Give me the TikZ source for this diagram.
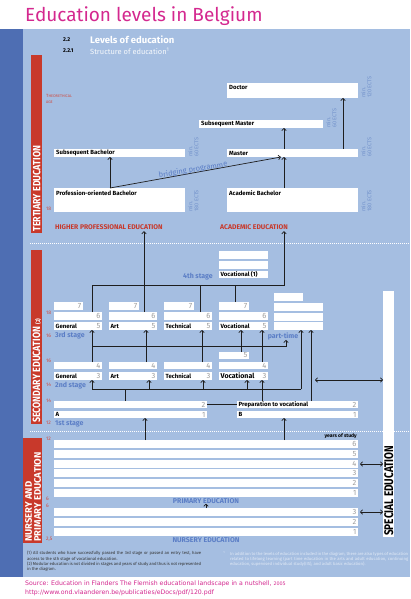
\documentclass[tikz,border=0pt]{standalone}
\usepackage{fontspec}
\usepackage{graphicx}
\setmainfont{Fira Sans}
\newfontfamily\srcfont{DejaVu Sans}
\usetikzlibrary{arrows.meta,calc}
\definecolor{bgblue}{HTML}{A5BEE1}
\definecolor{stripblue}{HTML}{4E6EB3}
\definecolor{redstrip}{HTML}{C8392B}
\definecolor{titlemag}{HTML}{D4288F}
\definecolor{stagetxt}{HTML}{5B7EC6}
\definecolor{ectstxt}{HTML}{7292CB}
\definecolor{numgrey}{HTML}{9C9C9C}
\definecolor{agered}{HTML}{D0483C}
\definecolor{linecol}{HTML}{1E1E1E}
\definecolor{notelight}{HTML}{E2EAF6}
\newcommand\fs[1]{\fontsize{#1}{#1}\selectfont}
\newcommand\wb[5]{\node[wbox,minimum width=#4pt,minimum height=#5pt] (#1) at (#2,#3) {};}
\newcommand\nb[6]{\wb{#1}{#2}{#3}{#4}{#5}\node[numtxt] (#1-n) at (#1.east) {#6};}
\newcommand\lb[7]{\nb{#1}{#2}{#3}{#4}{#5}{#7}\node[boxtxt] (#1-t) at (#1.west) {#6};}
\tikzset{
  wbox/.style={fill=white,draw=none,inner sep=0pt,outer sep=0pt,anchor=north west},
  numtxt/.style={anchor=east,inner sep=1.5pt,text=numgrey,font=\fs{7.5}},
  boxtxt/.style={anchor=west,inner sep=1.5pt,text=black,font=\fs{6}\bfseries},
  ttxt/.style={anchor=north west,inner sep=2pt,text=black,font=\fs{6}\bfseries},
  ects/.style={anchor=north west,rotate=90,align=left,text=ectstxt,font=\fontsize{5.5}{6}\selectfont,inner sep=0pt},
  agetxt/.style={anchor=west,text=agered,font=\fs{5},inner sep=0pt},
  stagetx/.style={anchor=west,text=stagetxt,font=\fs{7}\bfseries,inner sep=0pt},
  edtxt/.style={anchor=west,text=redstrip,font=\fs{6.8}\bfseries,inner sep=1.5pt},
  ln/.style={draw=linecol,line width=0.7pt},
  arr/.style={ln,-{Straight Barb[length=2.2pt,width=4.5pt]}},
  darr/.style={ln,{Straight Barb[length=2.2pt,width=4.5pt]}-{Straight Barb[length=2.2pt,width=4.5pt]}},
  striptxt/.style={rotate=90,anchor=west,text=white,inner sep=0pt},
}
\begin{document}
\begin{tikzpicture}[x=1pt,y=-1pt]
\useasboundingbox (0,0) rectangle (410,599);
\fill[white] (0,0) rectangle (410,599);
\fill[bgblue] (0,29) rectangle (410,577);
\fill[stripblue] (0,29) rectangle (23,577);
\node[anchor=west,text=titlemag,font=\fs{19},inner sep=0pt] (title) at (25,16) {Education levels in Belgium};
% header
\node[anchor=west,font=\fs{5.5}\bfseries,inner sep=0pt] (h1n) at (63,40) {2.2};
\node[anchor=west,font=\fs{9.5}\bfseries,text=white,inner sep=0pt] (h1) at (90,40) {Levels of education};
\node[anchor=west,font=\fs{5.5}\bfseries,inner sep=0pt] (h2n) at (63,51) {2.2.1};
\node[anchor=west,font=\fs{7.5},text=white!90!bgblue,inner sep=0pt] (h2) at (90,51) {Structure of education\textsuperscript{1}};
% red strips
\fill[redstrip] (31,55) rectangle (42,233);
\fill[redstrip] (31,250) rectangle (42,424);
\fill[redstrip] (23,438) rectangle (42,543);
\node[striptxt,font=\fs{10.5}\bfseries] (tert) at (36.8,232) {\scalebox{0.85}[1]{TERTIARY EDUCATION}};
\node[striptxt,font=\fs{10.5}\bfseries] (sec) at (36.8,423) {\scalebox{0.85}[1]{SECONDARY EDUCATION {\fs{6}(2)}}};
\node[striptxt,font=\fontsize{9.5}{9}\selectfont\bfseries,align=left] (nur) at (33,542) {NURSERY AND\\PRIMARY EDUCATION};
% separators
\draw[white,line width=0.4pt,dash pattern=on 1pt off 1pt] (30,243) -- (410,243);
\draw[white,line width=0.4pt,dash pattern=on 1pt off 1pt] (30,431) -- (410,431);
% theoretical age
\node[anchor=north west,align=left,text=agered,font=\fontsize{4.5}{6}\selectfont,inner sep=0pt] (tage) at (46,94) {T{\fs{3.8}HEORETHICAL}\\{\fs{3.8}AGE}};
% ages
\node[agetxt] (ag1) at (46,209) {18};
\node[agetxt] (ag2) at (46,313) {18};
\node[agetxt] (ag3) at (46,336) {16};
\node[agetxt] (ag4) at (46,361) {16};
\node[agetxt] (ag5) at (46,385) {14};
\node[agetxt] (ag6) at (46,401) {14};
\node[agetxt] (ag7) at (46,423) {12};
\node[agetxt] (ag8) at (46,439) {12};
\node[agetxt] (ag9) at (46,499) {6};
\node[agetxt] (ag10) at (46,506) {6};
\node[agetxt] (ag11) at (46,539) {2,5};
% tertiary boxes
\wb{doc}{227}{83}{131}{15}\node[ttxt] (doc-t) at (doc.north west) {Doctor};
\wb{smas}{199}{120}{124}{8}\node[ttxt,anchor=west] (smas-t) at (smas.west) {Subsequent Master};
\wb{sbach}{54}{149}{131}{8}\node[ttxt,anchor=west] (sbach-t) at (sbach.west) {Subsequent Bachelor};
\wb{mas}{227}{149}{131}{8}\node[ttxt,anchor=west] (mas-t) at (mas.west) {Master};
\wb{pbach}{54}{188}{131}{24}\node[ttxt] (pbach-t) at (pbach.north west) {Profession-oriented Bachelor};
\wb{abach}{227}{188}{131}{24}\node[ttxt] (abach-t) at (abach.north west) {Academic Bachelor};
% ECTS
\node[ects] (e1) at ([xshift=3pt]doc.south east) {min.\\120 ECTS};
\node[ects] (e2) at ([xshift=3pt]mas.south east) {min.\\60 ECTS};
\node[ects] (e3) at ([xshift=3pt]abach.south east) {min.\\180 ECTS};
\node[ects] (e4) at ([xshift=3pt]smas.south east) {min.\\60 ECTS};
\node[ects] (e5) at ([xshift=3pt]sbach.south east) {min.\\60 ECTS};
\node[ects] (e6) at ([xshift=3pt]pbach.south east) {min.\\180 ECTS};
% column coordinates
\coordinate (xB) at (110,0);
\coordinate (xBm) at (281,0);
\coordinate (xM) at (284,0);
\coordinate (xD) at (343,0);
\coordinate (xA) at (144,0);
\coordinate (xG) at (92,0);
\coordinate (xT) at (200,0);
\coordinate (xV) at (235,0);
\coordinate (xa1) at (146,0);
\coordinate (xt1) at (202,0);
\coordinate (xv1) at (241,0);
\coordinate (xa2) at (149,0);
\coordinate (xt2) at (203,0);
\coordinate (xv2) at (247,0);
\coordinate (xw) at (262,0);
\coordinate (xP) at (286,0);
\coordinate (xq) at (301,0);
\coordinate (xr) at (311,0);
\coordinate (xh) at (125,0);
\coordinate (xA2) at (145,0);
% tertiary arrows
\draw[arr] (pbach.north -| xB) -- (sbach.south -| xB);
\draw[arr] (pbach.north -| xB) -- (mas.south -| xBm);
\node[rotate=9.6,text=stagetxt,font=\fs{7.5},inner sep=0pt] (brid) at (193,170) {bridging programme};
\draw[arr] (abach.north -| xM) -- (mas.south -| xM);
\draw[arr] (mas.north -| xM) -- (smas.south -| xM);
\draw[arr] (mas.north -| xD) -- (doc.south -| xD);
\node[edtxt] (hpe) at (53.5,227) {HIGHER PROFESSIONAL EDUCATION};
\node[edtxt] (ae) at (218.5,227) {ACADEMIC EDUCATION};
% 4th stage
\wb{v4a}{219}{251}{49}{8}
\wb{v4b}{219}{261}{49}{8}
\wb{v4c}{219}{271}{49}{7}\node[boxtxt] (v4c-t) at (v4c.west) {Vocational (1)};
\node[stagetx,anchor=east] (st4) at (213,277) {4th stage};
% 3rd stage
\nb{g7}{54}{302}{29}{8}{7}
\nb{g6}{54}{312}{48}{8}{6}
\lb{g5}{54}{322}{48}{8}{General}{5}
\nb{a7}{109}{302}{30}{8}{7}
\nb{a6}{109}{312}{48}{8}{6}
\lb{a5}{109}{322}{48}{8}{Art}{5}
\nb{t7}{164}{302}{30}{8}{7}
\nb{t6}{164}{312}{48}{8}{6}
\lb{t5}{164}{322}{48}{8}{Technical}{5}
\nb{v7}{219}{302}{30}{8}{7}
\nb{v6}{219}{312}{49}{8}{6}
\lb{v5}{219}{322}{49}{8}{Vocational}{5}
\wb{p4}{274}{293}{29}{8}
\wb{p3}{274}{303}{49}{8}
\wb{p2}{274}{313}{49}{8}
\wb{p1}{274}{322}{49}{8}
\node[stagetx] (st3) at (55,336) {3rd stage};
\node[stagetx,anchor=center] (ptl) at (283,336) {part-time};
% 2nd stage
\nb{vx5}{219}{352}{30}{7}{5}
\nb{g4}{54}{362}{48}{7}{4}
\lb{g3}{54}{372}{48}{8}{General}{3}
\nb{a4}{109}{362}{48}{7}{4}
\lb{a3}{109}{372}{48}{8}{Art}{3}
\nb{t4}{164}{362}{48}{7}{4}
\lb{t3}{164}{372}{48}{8}{Technical}{3}
\nb{v4}{219}{362}{49}{7}{4}
\lb{v3}{219}{372}{49}{8}{\fs{7}Vocational}{3}
\node[stagetx] (st2) at (55,386) {2nd stage};
% 1st stage
\nb{s1b}{54}{401}{153}{7}{2}
\lb{s1a}{54}{411}{153}{7}{A}{1}
\lb{prep}{237}{401}{121}{7}{Preparation to vocational}{2}
\lb{bbx}{237}{411}{121}{7}{B}{1}
\node[stagetx] (st1) at (55,424) {1st stage};
% special education
\node[wbox,minimum width=11pt,minimum height=246pt] (spec) at (383,291) {};
\node[rotate=90,anchor=west,font=\fs{12.5}\bfseries,inner sep=0pt] (spect) at (388.8,536) {\scalebox{0.8}[1]{SPECIAL EDUCATION}};
% secondary connectors
\coordinate (jTop) at (284,285);
\draw[arr] (g6.north -| xG) |- (jTop) -- (ae.south -| xM);
\draw[ln] (t6.north -| xT) -- (xT |- jTop);
\draw[ln] (v7.north -| xV) -- (xV |- jTop);
\draw[arr] (a6.north -| xA) -- (hpe.south -| xA);
\draw[arr] (g4.north -| xG) -- (g5.south -| xG);
\draw[arr] (a4.north -| xa1) -- (a5.south -| xa1);
\draw[arr] (t4.north -| xt1) -- (t5.south -| xt1);
\draw[arr] (vx5.north -| xv1) -- (v5.south -| xv1);
\draw[arr] (v4.north -| xw) -- (v5.south -| xw);
\coordinate (jpt) at (92,346);
\draw[arr] (jpt) -| (ptl.south -| xP);
\coordinate (h2) at (125,389);
\draw[ln] (s1b.north -| xh) -- (h2);
\draw[ln] (xG |- h2) -- (xq |- h2);
\draw[arr] (xG |- h2) -- (g3.south -| xG);
\draw[arr] (xa2 |- h2) -- (a3.south -| xa2);
\draw[arr] (xt2 |- h2) -- (t3.south -| xt2);
\draw[arr] (xv2 |- h2) -- (v3.south -| xv2);
\draw[arr] (xq |- h2) -- (p1.south -| xq);
\draw[arr] (prep.north -| xw) -- (v3.south -| xw);
\draw[arr] (prep.north -| xr) -- (p1.south -| xr);
\draw[ln] (s1b.east) -- (prep.west);
\coordinate (da1) at (315,380);
\draw[darr] (da1) -- (spec.west |- da1);
% primary
\nb{pr6}{54}{440}{304}{8}{6}
\nb{pr5}{54}{450}{304}{8}{5}
\nb{pr4}{54}{460}{304}{8}{4}
\nb{pr3}{54}{469}{304}{8}{3}
\nb{pr2}{54}{479}{304}{8}{2}
\nb{pr1}{54}{489}{304}{8}{1}
\node[anchor=south east,font=\fs{5}\bfseries,inner sep=1pt] (yos) at (pr6.north east) {years of study};
\node[text=stagetxt,font=\fs{7}\bfseries,inner sep=0pt] (pe) at (206,501) {PRIMARY EDUCATION};
\nb{nu3}{54}{508}{304}{8}{3}
\nb{nu2}{54}{518}{304}{8}{2}
\nb{nu1}{54}{528}{304}{8}{1}
\node[text=stagetxt,font=\fs{7}\bfseries,inner sep=0pt] (ne) at (206,540) {NURSERY EDUCATION};
\draw[arr] (nu3.north -| pe.south) -- (pe.south);
\draw[arr] (pr6.north -| xA2) -- (s1a.south -| xA2);
\draw[arr] (pr6.north -| xM) -- (bbx.south -| xM);
\draw[darr] ([xshift=2pt]pr4.east) -- (spec.west |- pr4.east);
\draw[darr] ([xshift=2pt]nu3.east) -- (spec.west |- nu3.east);
% footnotes
\node[anchor=north west,text width=174pt,align=justify,font=\fontsize{4.2}{5.4}\selectfont,text=black!80,inner sep=0pt] (fnl) at (27,551) {(1) All students who have successfully passed the 3rd stage or passed an entry test, have access to the 4th stage of vocational education.\\(2) Modular education is not divided in stages and years of study and thus is not represented in the diagram.};
\node[anchor=north west,text width=178pt,align=justify,font=\fontsize{4.2}{5.4}\selectfont,text=notelight,inner sep=0pt] (fnr) at (230,551) {\llap{\textsuperscript{1}\hspace{5pt}}In addition to the levels of education included in the diagram, there are also types of education related to lifelong learning (part time education in the arts and adult education, continuing education, supervised individual study(IIS), and adult basic education).};
% source
\node[anchor=west,text=titlemag,font=\srcfont\fs{6.2},inner sep=0pt] (src) at (25,584) {Source: Education in Flanders The Flemish educational landscape in a nutshell, {\fs{4.8}2005}};
\node[anchor=west,text=titlemag,font=\srcfont\fs{6.2},inner sep=0pt] (url) at (25,593) {http://www.ond.vlaanderen.be/publicaties/eDocs/pdf/120.pdf};
\end{tikzpicture}
\end{document}
